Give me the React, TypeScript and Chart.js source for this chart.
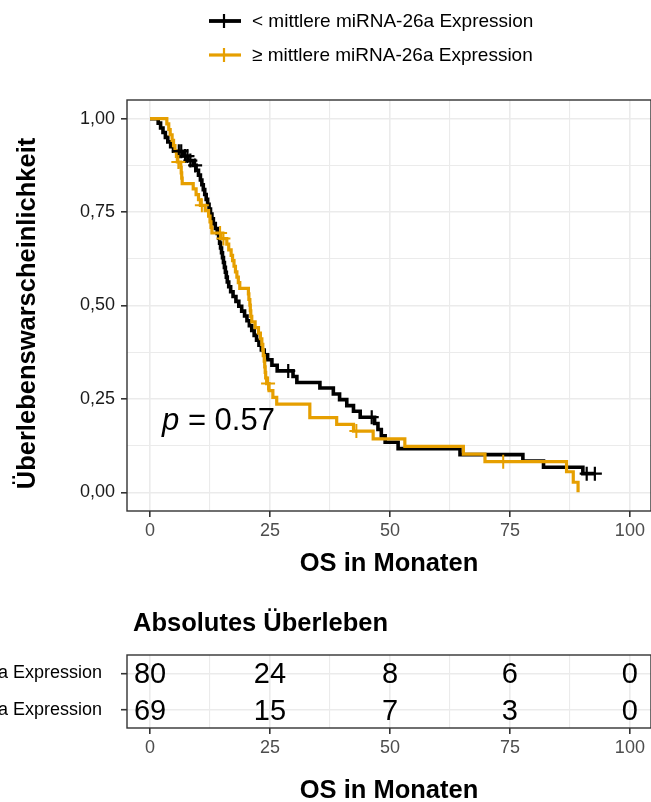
import React, { useEffect, useRef } from 'react';
import { Chart, registerables } from 'chart.js';

Chart.register(...registerables);

const FONT = '"Liberation Sans", Arial, Helvetica, sans-serif';

// Groups and colours
const GROUPS = ['< mittlere miRNA-26a Expression', '≥ mittlere miRNA-26a Expression'];
const COLORS = ['#000000', '#E69F00'];

// Kaplan–Meier steps: group below the mean (n = 80)
const LOW_TIME = [
  0, 1.7, 2.2, 2.7, 3.2, 3.7, 4.3, 4.9, 6.8, 7.9,
  9.0, 9.6, 10.1, 10.5, 10.8, 11.1, 11.4, 11.7, 12.0, 12.3,
  12.6, 12.9, 13.2, 13.6, 14.0, 14.3, 14.5, 14.7, 14.9, 15.1,
  15.3, 15.5, 15.7, 15.9, 16.1, 16.4, 16.8, 17.3, 17.9, 18.5,
  19.1, 19.7, 20.2, 20.7, 21.2, 21.7, 22.2, 22.7, 23.2, 23.8,
  24.5, 25.4, 26.5, 29.8, 30.6, 35.4, 38.2, 39.5, 41.0, 42.4,
  43.8, 46.8, 47.5, 48.2, 49.0, 51.7, 64.6, 77.7, 82.0, 90.2,
];
const LOW_SURV = [
  1.0, 0.988, 0.975, 0.963, 0.95, 0.938, 0.925, 0.913, 0.9, 0.888,
  0.875, 0.862, 0.849, 0.836, 0.823, 0.81, 0.797, 0.784, 0.771, 0.758,
  0.745, 0.732, 0.719, 0.706, 0.693, 0.68, 0.667, 0.654, 0.641, 0.628,
  0.615, 0.602, 0.589, 0.576, 0.563, 0.55, 0.537, 0.524, 0.511, 0.498,
  0.485, 0.472, 0.459, 0.446, 0.433, 0.42, 0.407, 0.394, 0.381, 0.368,
  0.355, 0.34, 0.325, 0.31, 0.294, 0.279, 0.263, 0.248, 0.232, 0.217,
  0.201, 0.184, 0.168, 0.151, 0.134, 0.117, 0.101, 0.084, 0.067, 0.05,
];
const LOW_CENSOR = [6.0, 6.5, 7.3, 7.8, 8.4, 9.4, 28.8, 46.2, 91.0, 92.7];

// Kaplan–Meier steps: group at or above the mean (n = 69)
const HIGH_TIME = [
  0, 3.5, 3.9, 4.2, 4.6, 4.9, 5.2, 5.5, 5.7, 6.4,
  6.5, 6.6, 6.7, 9.0, 9.6, 10.1, 10.5, 11.5, 12.2, 12.5,
  12.7, 12.9, 14.8, 16.0, 16.4, 16.9, 17.2, 17.5, 17.8, 18.1,
  18.4, 18.7, 20.5, 20.6, 20.8, 20.9, 21.0, 21.2, 21.9, 22.6,
  23.0, 23.3, 23.5, 23.6, 23.8, 23.9, 24.0, 24.1, 24.3, 24.8,
  25.6, 26.4, 33.3, 38.9, 42.4, 46.5, 53.1, 65.3, 69.8, 86.8,
  88.2, 89.2,
];
const HIGH_SURV = [
  1.0, 0.986, 0.971, 0.957, 0.942, 0.928, 0.913, 0.899, 0.884, 0.87,
  0.855, 0.841, 0.826, 0.812, 0.797, 0.783, 0.768, 0.754, 0.739, 0.724,
  0.709, 0.694, 0.679, 0.664, 0.649, 0.634, 0.62, 0.605, 0.59, 0.576,
  0.561, 0.546, 0.531, 0.516, 0.501, 0.486, 0.471, 0.456, 0.441, 0.426,
  0.411, 0.396, 0.381, 0.366, 0.351, 0.336, 0.321, 0.306, 0.291, 0.272,
  0.254, 0.236, 0.2, 0.182, 0.164, 0.143, 0.123, 0.102, 0.082, 0.055,
  0.027, 0.0,
];
const HIGH_CENSOR = [5.9, 10.8, 14.6, 15.3, 24.6, 43.0, 73.6];

// Axis ticks (major ticks carry labels, the others are minor grid lines)
const X_TICKS = [0, 12.5, 25, 37.5, 50, 62.5, 75, 87.5, 100];
const X_MAJOR = [0, 25, 50, 75, 100];
const X_LABELS = ['0', '25', '50', '75', '100'];
const Y_TICKS = [0, 0.125, 0.25, 0.375, 0.5, 0.625, 0.75, 0.875, 1];
const Y_MAJOR = [0, 0.25, 0.5, 0.75, 1];
const Y_LABELS = ['0,00', '0,25', '0,50', '0,75', '1,00'];

// Numbers at risk
const RISK_TIMES = [0, 25, 50, 75, 100];
const RISK_LOW = [80, 24, 8, 6, 0];
const RISK_HIGH = [69, 15, 7, 3, 0];

// Log-rank p-value and where it sits (months, survival)
const P_VALUE = '0.57';
const P_POS = [2.5, 0.166];

const Y_TITLE = 'Überlebenswarscheinlichkeit';
const X_TITLE = 'OS in Monaten';
const TABLE_TITLE = 'Absolutes Überleben';

const X_MIN = -4.8;
const X_MAX = 104.4;
const TITLE_SIZE = 25.5;

function survAt(times: number[], surv: number[], t: number) {
  let s = surv[0];
  for (let i = 0; i < times.length; i++) if (times[i] <= t) s = surv[i];
  return s;
}

function curve(times: number[], surv: number[], censor: number[]) {
  const pts = times.map((t, i) => ({ x: t, y: surv[i] }));
  const lastT = times[times.length - 1];
  const end = Math.max(lastT, ...censor);
  if (end > lastT) pts.push({ x: end, y: surv[surv.length - 1] });
  return pts;
}

function censorPts(times: number[], surv: number[], censor: number[]) {
  return censor.map((t) => ({ x: t, y: survAt(times, surv, t) }));
}

const isMajorX = (v: number) => X_MAJOR.includes(v);
const isMajorY = (v: number) => Y_MAJOR.includes(v);

function xScale(height: number, titlePadBottom: number) {
  return {
    type: 'linear',
    min: X_MIN,
    max: X_MAX,
    afterBuildTicks: (s: any) => {
      s.ticks = X_TICKS.map((v) => ({ value: v }));
    },
    afterFit: (s: any) => {
      s.height = height;
    },
    ticks: {
      autoSkip: false,
      maxRotation: 0,
      padding: 3,
      color: '#4D4D4D',
      font: { family: FONT, size: 18 },
      callback: (v: number) => {
        const i = X_MAJOR.indexOf(v);
        return i >= 0 ? X_LABELS[i] : '';
      },
    },
    grid: {
      color: '#EBEBEB',
      lineWidth: (c: any) => (c.tick && isMajorX(c.tick.value) ? 1.6 : 1.1),
      tickLength: 6,
      tickWidth: 1.6,
      tickColor: (c: any) => (c.tick && isMajorX(c.tick.value) ? '#333333' : 'rgba(0,0,0,0)'),
    },
    border: { display: false },
    title: {
      display: true,
      text: X_TITLE,
      color: '#000',
      font: { family: FONT, size: TITLE_SIZE, weight: 'bold', lineHeight: 1 },
      padding: { top: 0, bottom: titlePadBottom },
    },
  };
}

const panelBorder = {
  id: 'panelBorder',
  afterDatasetsDraw(chart: any) {
    const { left, top, right, bottom } = chart.chartArea;
    const ctx = chart.ctx;
    ctx.save();
    ctx.strokeStyle = '#333333';
    ctx.lineWidth = 1.4;
    ctx.strokeRect(left, top, right - left, bottom - top);
    ctx.restore();
  },
};

// Rotated y-axis title, centred a little below the middle of the panel
const yTitlePlugin = {
  id: 'yTitle',
  afterDraw(chart: any) {
    const ctx = chart.ctx;
    const { top, bottom } = chart.chartArea;
    ctx.save();
    ctx.translate(28, (top + bottom) / 2 + 8);
    ctx.rotate(-Math.PI / 2);
    ctx.fillStyle = '#000';
    ctx.font = `bold ${TITLE_SIZE}px ${FONT}`;
    ctx.textAlign = 'center';
    ctx.textBaseline = 'middle';
    ctx.fillText(Y_TITLE, 0, 0);
    ctx.restore();
  },
};

const LEGEND_Y = [21, 55];

const legendPlugin = {
  id: 'kmLegend',
  afterDraw(chart: any) {
    const ctx = chart.ctx;
    ctx.save();
    GROUPS.forEach((g, i) => {
      const y = LEGEND_Y[i];
      ctx.strokeStyle = COLORS[i];
      ctx.lineWidth = i === 0 ? 3.8 : 3.2;
      ctx.beginPath();
      ctx.moveTo(209, y);
      ctx.lineTo(241, y);
      ctx.stroke();
      ctx.lineWidth = 2.2;
      ctx.beginPath();
      ctx.moveTo(224, y - 7);
      ctx.lineTo(224, y + 7);
      ctx.stroke();
      ctx.fillStyle = '#000';
      ctx.font = `19px ${FONT}`;
      ctx.textBaseline = 'middle';
      ctx.textAlign = 'left';
      ctx.fillText(g, 252, y + 1);
    });
    ctx.restore();
  },
};

const pValuePlugin = {
  id: 'pValue',
  afterDatasetsDraw(chart: any) {
    const ctx = chart.ctx;
    const x = chart.scales.x.getPixelForValue(P_POS[0]);
    const y = chart.scales.y.getPixelForValue(P_POS[1]);
    ctx.save();
    ctx.fillStyle = '#000';
    ctx.textBaseline = 'alphabetic';
    ctx.textAlign = 'left';
    ctx.font = `italic 31px ${FONT}`;
    ctx.fillText('p', x, y);
    const w = ctx.measureText('p').width;
    ctx.font = `31px ${FONT}`;
    ctx.fillText(' = ' + P_VALUE, x + w, y);
    ctx.restore();
  },
};

function mainConfig(): any {
  return {
    type: 'line',
    data: {
      datasets: [
        {
          label: GROUPS[0],
          data: curve(LOW_TIME, LOW_SURV, LOW_CENSOR),
          borderColor: COLORS[0],
          borderWidth: 3.6,
          stepped: 'before',
          pointRadius: 0,
          fill: false,
          order: 3,
        },
        {
          label: GROUPS[1],
          data: curve(HIGH_TIME, HIGH_SURV, HIGH_CENSOR),
          borderColor: COLORS[1],
          borderWidth: 3.2,
          stepped: 'before',
          pointRadius: 0,
          fill: false,
          order: 2,
        },
        {
          type: 'scatter',
          label: GROUPS[0] + ' (zensiert)',
          data: censorPts(LOW_TIME, LOW_SURV, LOW_CENSOR),
          pointStyle: 'cross',
          pointRadius: 7,
          borderColor: COLORS[0],
          borderWidth: 2.2,
          showLine: false,
          order: 1,
        },
        {
          type: 'scatter',
          label: GROUPS[1] + ' (zensiert)',
          data: censorPts(HIGH_TIME, HIGH_SURV, HIGH_CENSOR),
          pointStyle: 'cross',
          pointRadius: 7,
          borderColor: COLORS[1],
          borderWidth: 2,
          showLine: false,
          order: 0,
        },
      ],
    },
    options: {
      responsive: false,
      animation: false,
      events: [],
      layout: { autoPadding: false, padding: { top: 100, left: 0, right: 0, bottom: 0 } },
      plugins: { legend: { display: false }, tooltip: { enabled: false } },
      scales: {
        x: xScale(89, 23),
        y: {
          type: 'linear',
          min: -0.05,
          max: 1.05,
          afterBuildTicks: (s: any) => {
            s.ticks = Y_TICKS.map((v) => ({ value: v }));
          },
          afterFit: (s: any) => {
            s.width = 127;
          },
          ticks: {
            autoSkip: false,
            padding: 6,
            color: '#1A1A1A',
            font: { family: FONT, size: 18 },
            callback: (v: number) => {
              const i = Y_MAJOR.indexOf(v);
              return i >= 0 ? Y_LABELS[i] : '';
            },
          },
          grid: {
            color: '#EBEBEB',
            lineWidth: (c: any) => (c.tick && isMajorY(c.tick.value) ? 1.6 : 1.1),
            tickLength: 6,
            tickWidth: 1.6,
            tickColor: (c: any) => (c.tick && isMajorY(c.tick.value) ? '#333333' : 'rgba(0,0,0,0)'),
          },
          border: { display: false },
          title: { display: false },
        },
      },
    },
    plugins: [panelBorder, pValuePlugin, legendPlugin, yTitlePlugin],
  };
}

const riskTextPlugin = {
  id: 'riskText',
  afterDatasetsDraw(chart: any) {
    const ctx = chart.ctx;
    ctx.save();
    ctx.fillStyle = '#000';
    ctx.font = `29px ${FONT}`;
    ctx.textAlign = 'center';
    ctx.textBaseline = 'middle';
    chart.data.datasets.forEach((ds: any, di: number) => {
      const meta = chart.getDatasetMeta(di);
      meta.data.forEach((el: any, i: number) => {
        ctx.fillText(String(ds.data[i].n), el.x, el.y + 2);
      });
    });
    ctx.restore();
  },
};

const tableTitlePlugin = {
  id: 'tableTitle',
  afterDraw(chart: any) {
    const ctx = chart.ctx;
    ctx.save();
    ctx.fillStyle = '#000';
    ctx.font = `bold ${TITLE_SIZE}px ${FONT}`;
    ctx.textAlign = 'left';
    ctx.textBaseline = 'middle';
    ctx.fillText(TABLE_TITLE, chart.chartArea.left + 6, 24);
    ctx.restore();
  },
};

function tableConfig(): any {
  return {
    type: 'scatter',
    data: {
      datasets: [
        {
          label: GROUPS[0],
          data: RISK_TIMES.map((t, i) => ({ x: t, y: 1, n: RISK_LOW[i] })),
          pointRadius: 0,
        },
        {
          label: GROUPS[1],
          data: RISK_TIMES.map((t, i) => ({ x: t, y: 2, n: RISK_HIGH[i] })),
          pointRadius: 0,
        },
      ],
    },
    options: {
      responsive: false,
      animation: false,
      events: [],
      layout: { autoPadding: false, padding: { top: 55, left: 0, right: 0, bottom: 0 } },
      plugins: { legend: { display: false }, tooltip: { enabled: false } },
      scales: {
        x: xScale(74, -2),
        y: {
          type: 'linear',
          min: 0.5,
          max: 2.5,
          reverse: true,
          afterBuildTicks: (s: any) => {
            s.ticks = [{ value: 1 }, { value: 2 }];
          },
          afterFit: (s: any) => {
            s.width = 127;
          },
          ticks: {
            autoSkip: false,
            padding: 19,
            color: '#000',
            font: { family: FONT, size: 18 },
            callback: (v: number) => GROUPS[v - 1],
          },
          grid: {
            color: '#EBEBEB',
            lineWidth: 1.4,
            tickLength: 6,
            tickWidth: 1.6,
            tickColor: '#333333',
          },
          border: { display: false },
        },
      },
    },
    plugins: [panelBorder, riskTextPlugin, tableTitlePlugin],
  };
}

export default function App() {
  const mainRef = useRef<HTMLCanvasElement>(null);
  const tableRef = useRef<HTMLCanvasElement>(null);

  useEffect(() => {
    const main = new Chart(mainRef.current as HTMLCanvasElement, mainConfig());
    const table = new Chart(tableRef.current as HTMLCanvasElement, tableConfig());
    return () => {
      main.destroy();
      table.destroy();
    };
  }, []);

  return (
    <div
      style={{
        position: 'fixed',
        left: 0,
        top: 0,
        width: 651,
        height: 802,
        overflow: 'hidden',
        background: '#ffffff',
      }}
    >
      <canvas
        ref={mainRef}
        width={651}
        height={600}
        style={{ position: 'absolute', left: 0, top: 0, width: 651, height: 600 }}
      />
      <canvas
        ref={tableRef}
        width={651}
        height={202}
        style={{ position: 'absolute', left: 0, top: 600, width: 651, height: 202 }}
      />
    </div>
  );
}
